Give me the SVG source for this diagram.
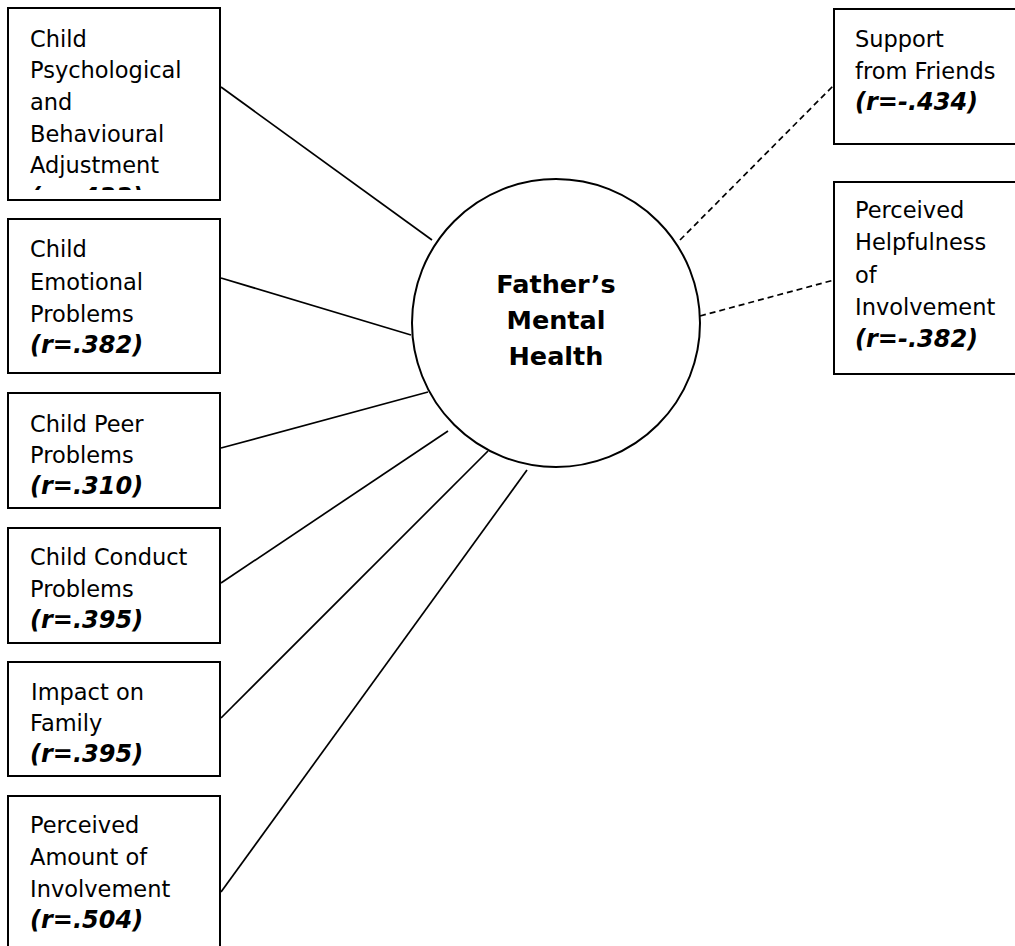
<svg xmlns="http://www.w3.org/2000/svg" width="1015" height="946" viewBox="0 0 1015 946">
<style>
.box{fill:#fff;stroke:#000;stroke-width:2}
.t{font-family:"DejaVu Sans","Verdana",sans-serif;font-size:22.5px;fill:#000}
.r{font-family:"DejaVu Sans","Verdana",sans-serif;font-size:24px;font-weight:bold;font-style:italic;fill:#000}
.c{font-family:"DejaVu Sans","Verdana",sans-serif;font-size:25.5px;font-weight:bold;fill:#000;text-anchor:middle}
.ln{stroke:#000;stroke-width:1.7;fill:none}
.dl{stroke:#000;stroke-width:1.7;fill:none;stroke-dasharray:6 4}
</style>
<defs>
<clipPath id="clip1"><rect x="8" y="8" width="212" height="182"/></clipPath>
</defs>
<rect width="1015" height="946" fill="#fff"/>
<g id="connectors">
<line class="ln" x1="221" y1="87" x2="432" y2="240"/>
<line class="ln" x1="221" y1="278" x2="411" y2="335"/>
<line class="ln" x1="221" y1="448" x2="428" y2="392"/>
<line class="ln" x1="221" y1="583" x2="448" y2="431"/>
<line class="ln" x1="221" y1="718" x2="488" y2="451"/>
<line class="ln" x1="221" y1="892" x2="527" y2="470"/>
<line class="dl" x1="680" y1="240" x2="834" y2="85"/>
<line class="dl" x1="700" y1="316" x2="834" y2="280"/>
</g>
<g id="n-father">
<circle cx="556" cy="323" r="144" fill="#fff" stroke="#000" stroke-width="2"/>
<text class="c" x="556" y="293">Father’s</text>
<text class="c" x="556" y="329">Mental</text>
<text class="c" x="556" y="365">Health</text>
</g>
<g id="n-psych">
<rect class="box" x="8" y="8" width="212" height="192"/>
<g clip-path="url(#clip1)">
<text class="t" x="30" y="47">Child</text>
<text class="t" x="30" y="78">Psychological</text>
<text class="t" x="30" y="110">and</text>
<text class="t" x="30" y="142">Behavioural</text>
<text class="t" x="30" y="173">Adjustment</text>
<text class="r" x="30" y="205">(r=.433)</text>
</g>
</g>
<g id="n-emotional">
<rect class="box" x="8" y="219" width="212" height="154"/>
<text class="t" x="30" y="257">Child</text>
<text class="t" x="30" y="290">Emotional</text>
<text class="t" x="30" y="322">Problems</text>
<text class="r" x="30" y="353">(r=.382)</text>
</g>
<g id="n-peer">
<rect class="box" x="8" y="393" width="212" height="115"/>
<text class="t" x="30" y="432">Child Peer</text>
<text class="t" x="30" y="463">Problems</text>
<text class="r" x="30" y="494">(r=.310)</text>
</g>
<g id="n-conduct">
<rect class="box" x="8" y="528" width="212" height="115"/>
<text class="t" x="30" y="565">Child Conduct</text>
<text class="t" x="30" y="597">Problems</text>
<text class="r" x="30" y="628">(r=.395)</text>
</g>
<g id="n-impact">
<rect class="box" x="8" y="662" width="212" height="114"/>
<text class="t" x="31" y="700">Impact on</text>
<text class="t" x="30" y="731">Family</text>
<text class="r" x="30" y="762">(r=.395)</text>
</g>
<g id="n-amount">
<rect class="box" x="8" y="796" width="212" height="160"/>
<text class="t" x="30" y="833">Perceived</text>
<text class="t" x="30" y="865">Amount of</text>
<text class="t" x="30" y="897">Involvement</text>
<text class="r" x="30" y="928">(r=.504)</text>
</g>
<g id="n-friends">
<rect class="box" x="834" y="9" width="190" height="135"/>
<text class="t" x="855" y="47">Support</text>
<text class="t" x="855" y="79">from Friends</text>
<text class="r" x="855" y="110">(r=-.434)</text>
</g>
<g id="n-helpful">
<rect class="box" x="834" y="182" width="190" height="192"/>
<text class="t" x="855" y="218">Perceived</text>
<text class="t" x="855" y="250">Helpfulness</text>
<text class="t" x="855" y="283">of</text>
<text class="t" x="855" y="315">Involvement</text>
<text class="r" x="855" y="347">(r=-.382)</text>
</g>
</svg>
